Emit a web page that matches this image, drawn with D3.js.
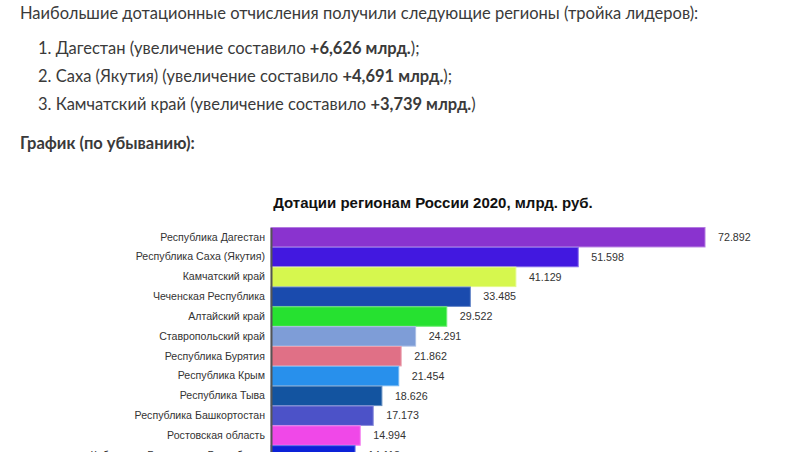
<!DOCTYPE html>
<html lang="ru">
<head>
<meta charset="utf-8">
<script src="https://cdn.jsdelivr.net/npm/d3@7"></script>
<style>
  body { margin: 0; background: #fff; }
  svg { display: block; }
</style>
</head>
<body>
<svg id="page"></svg>
<script>
// данные графика
const regions = [
    "Республика Дагестан",
    "Республика Саха (Якутия)",
    "Камчатский край",
    "Чеченская Республика",
    "Алтайский край",
    "Ставропольский край",
    "Республика Бурятия",
    "Республика Крым",
    "Республика Тыва",
    "Республика Башкортостан",
    "Ростовская область",
    "Кабардино-Балкарская Республика"
];
const values = [72.892, 51.598, 41.129, 33.485, 29.522, 24.291, 21.862, 21.454, 18.626, 17.173, 14.994, 14.118];
const barColors = ["#8a33cf", "#4218e0", "#d6f74e", "#1a4bae", "#26e130", "#7e9dd7",
                   "#e07086", "#2890ec", "#1354a0", "#4c52c8", "#f048e8", "#0c22d8"];

// текст над графиком
const introText = "Наибольшие дотационные отчисления получили следующие регионы (тройка лидеров):";
const leaders = [
    {pre: "1. Дагестан (увеличение составило ", bold: "+6,626 млрд.", post: ");"},
    {pre: "2. Саха (Якутия) (увеличение составило ", bold: "+4,691 млрд.", post: ");"},
    {pre: "3. Камчатский край (увеличение составило ", bold: "+3,739 млрд.", post: ")"}
];
const subTitle = "График (по убыванию):";
const chartTitle = "Дотации регионам России 2020, млрд. руб.";

const W = 790, H = 452;
const svg = d3.select("#page").attr("width", W).attr("height", H);

// ---- текст статьи ----
const textColor = "#3a3a3a";
const txt = svg.append("g")
    .style("font-family", "Lato, 'Open Sans', sans-serif")
    .style("font-size", "16.5px")
    .attr("fill", textColor);

txt.append("text").attr("x", 20).attr("y", 18.5).text(introText);

leaders.forEach((d, i) => {
    const t = txt.append("text").attr("x", 38).attr("y", 54 + i * 27.8);
    t.append("tspan").text(d.pre);
    t.append("tspan").attr("font-weight", "bold").text(d.bold);
    t.append("tspan").text(d.post);
});

txt.append("text").attr("x", 20).attr("y", 148.5)
    .attr("font-weight", "bold").text(subTitle);

// ---- график ----
const chartLeft = 271, chartRight = 705, chartTop = 227.5;
const step = 19.8;

const xScale = d3.scaleLinear()
    .domain([0, d3.max(values)])
    .range([chartLeft, chartRight]);

const yScale = d3.scaleBand()
    .domain(regions)
    .range([chartTop, chartTop + step * regions.length])
    .paddingInner(0.02)
    .paddingOuter(0);

svg.append("text")
    .attr("x", 433).attr("y", 208)
    .attr("text-anchor", "middle")
    .style("font-family", "Arial, 'Liberation Sans', sans-serif")
    .style("font-size", "15px")
    .style("font-weight", "bold")
    .attr("fill", "#111")
    .text(chartTitle);

const rows = regions.map((r, i) => ({region: r, value: values[i], color: barColors[i]}));

svg.append("g").selectAll("rect")
    .data(rows)
    .enter()
    .append("rect")
    .attr("x", xScale(0))
    .attr("y", d => yScale(d.region))
    .attr("width", d => xScale(d.value) - xScale(0))
    .attr("height", yScale.bandwidth())
    .attr("fill", d => d.color)
    .attr("stroke", d => d3.interpolateRgb(d.color, "#fff")(0.35))
    .attr("stroke-width", 1);

// подписи значений
svg.append("g").selectAll("text")
    .data(rows)
    .enter()
    .append("text")
    .attr("x", d => xScale(d.value) + 13)
    .attr("y", d => yScale(d.region) + yScale.bandwidth() / 2)
    .attr("dy", "0.35em")
    .style("font-family", "Arial, 'Liberation Sans', sans-serif")
    .style("font-size", "10.7px")
    .attr("fill", "#333")
    .text(d => d.value.toFixed(3));

// ось категорий
const yAxis = d3.axisLeft(yScale).tickSize(0).tickPadding(6);
const axisG = svg.append("g")
    .attr("transform", `translate(${chartLeft},0)`)
    .call(yAxis);
axisG.select(".domain").attr("stroke", "#555").attr("stroke-width", 2);
axisG.selectAll("text")
    .style("font-family", "Arial, 'Liberation Sans', sans-serif")
    .style("font-size", "10.6px")
    .attr("fill", "#333");
</script>
</body>
</html>
